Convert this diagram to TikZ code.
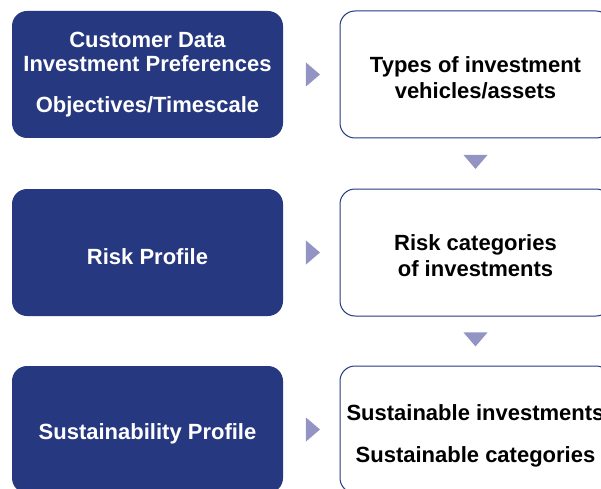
\documentclass[tikz,border=0pt]{standalone}
\usepackage{fontspec}
\setmainfont{Liberation Sans}
\usetikzlibrary{calc, positioning, shapes.geometric}
\definecolor{navy}{RGB}{38,56,128}
\definecolor{lilac}{RGB}{148,148,196}
\newcommand{\lift}[1]{\rule{0pt}{#1}}
\tikzstyle{input}  = [rectangle, rounded corners=15pt, minimum width=271pt, minimum height=127pt, outer sep=0pt, fill=navy, text=white, align=center, execute at begin node={\lift{24pt}}, font=\bfseries\fontsize{22}{24}\selectfont]
\tikzstyle{output} = [rectangle, rounded corners=15pt, minimum width=271pt, minimum height=127pt, outer sep=0pt, draw=navy, line width=1pt, fill=white, text=black, align=center, font=\bfseries\fontsize{22}{26}\selectfont]
\tikzstyle{rtri}   = [isosceles triangle, isosceles triangle stretches, minimum width=24pt, minimum height=14pt, inner sep=0pt, fill=lilac]
\tikzstyle{dtri}   = [rtri, shape border rotate=-90]

\begin{document}
\begin{tikzpicture}[x=1pt, y=1pt, node distance=51pt and 57pt]
    \useasboundingbox (0,0) rectangle (601,488);
    \clip (0,0) rectangle (601,488);

    \node (C) [input] at (147.5,413.5) {Customer Data\\Investment Preferences\\[17pt]Objectives/Timescale};
    \node (R) [input, below=of C]      {Risk Profile};
    \node (S) [input, below=50pt of R] {Sustainability Profile};

    \node (T) [output, right=of C] {\lift{22pt}Types of investment\\vehicles/assets};
    \node (K) [output, right=of R] {\lift{22pt}Risk categories\\of investments};
    \node (G) [output, right=of S] {\lift{28pt}Sustainable investments\\[16pt]Sustainable categories};

    \node (a1) [rtri] at ($(C.east)!.5!(T.west)$) {};
    \node (a2) [rtri] at ($(R.east)!.5!(K.west)$) {};
    \node (a3) [rtri] at ($(S.east)!.5!(G.west)$) {};
    \node (d1) [dtri, yshift=3pt] at ($(T.south)!.5!(K.north)$) {};
    \node (d2) [dtri, yshift=3pt] at ($(K.south)!.5!(G.north)$) {};
\end{tikzpicture}
\end{document}
